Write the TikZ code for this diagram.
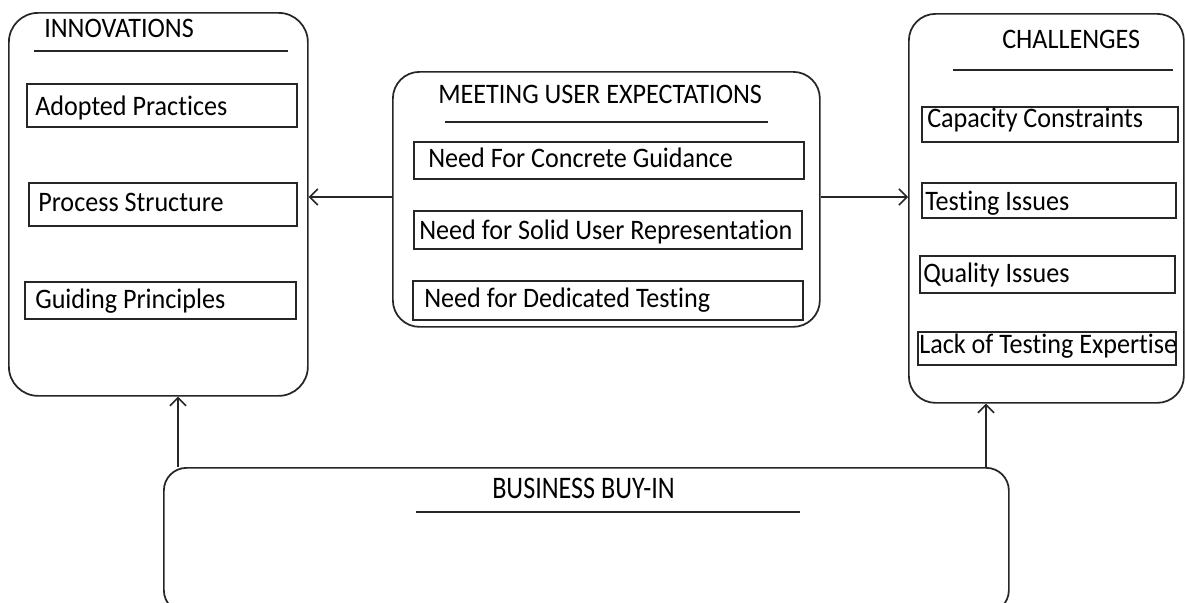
\documentclass[tikz,border=0pt]{standalone}
\usepackage{fontspec}
\setmainfont[Ligatures={NoCommon}]{Carlito}
\usetikzlibrary{arrows.meta}
\tikzset{
  ink/.style={draw=black!85, line width=1.3pt},
  frame/.style={ink, rounded corners=#1, inner sep=0pt, anchor=north west},
  item/.style={ink, inner sep=0pt, anchor=north west},
  txt/.style={inner sep=0pt, anchor=base west, font=\fontsize{19.6}{24}\selectfont},
  rulel/.style={ink},
  arr/.style={draw=black!85, line width=1.1pt, -{Straight Barb[length=6pt,width=12pt]}},
}
% #1 name, (#2,#3) top-left, (#4,#5) bottom-right, in pixel units
\newcommand\boxat[5]{\node[item, minimum width={(#4-#2)*0.75pt}, minimum height={(#5-#3)*0.75pt}] (#1) at (#2,#3) {};}
\newcommand\framat[6]{\node[frame=#6, minimum width={(#4-#2)*0.75pt}, minimum height={(#5-#3)*0.75pt}] (#1) at (#2,#3) {};}
\newcommand\tx[1]{\scalebox{1}[1.08]{#1}}

\begin{document}
\begin{tikzpicture}[x=0.75pt, y=-0.75pt]
\useasboundingbox (0,0) rectangle (1186,603);

% ---- Innovations ----
\framat{inn}{8}{12}{307}{395}{22pt}
\node[txt] (innT) at (44,37) {\tx{INNOVATIONS}};
\draw[rulel] (34,51) -- (288,51);
\boxat{ap}{26}{83}{296}{126}
\node[txt] (apT) at (35,115) {\tx{Adopted Practices}};
\boxat{ps}{28}{182}{296}{225}
\node[txt] (psT) at (38,211) {\tx{Process Structure}};
\boxat{gp}{24}{281}{295}{318}
\node[txt] (gpT) at (35,308) {\tx{Guiding Principles}};

% ---- Meeting user expectations ----
\framat{mue}{392}{71}{819}{326}{20pt}
\node[txt] (mueT) at (438,103) {\tx{MEETING USER EXPECTATIONS}};
\draw[rulel] (445,122) -- (768,122);
\boxat{cg}{413}{141}{803}{178}
\node[txt] (cgT) at (428,167) {\tx{Need For Concrete Guidance}};
\boxat{su}{413}{210}{801}{248}
\node[txt] (suT) at (419,239) {\tx{Need for Solid User Representation}};
\boxat{dt}{412}{280}{802}{319}
\node[txt] (dtT) at (424,307) {\tx{Need for Dedicated Testing}};

% ---- Challenges ----
\framat{cha}{908}{13}{1183}{402}{20pt}
\node[txt] (chaT) at (1002,48) {\tx{CHALLENGES}};
\draw[rulel] (953,70) -- (1173,70);
\boxat{cc}{921}{106}{1177}{141}
\node[txt] (ccT) at (927,127) {\tx{Capacity Constraints}};
\boxat{ti}{921}{182}{1175}{217}
\node[txt] (tiT) at (925,210) {\tx{Testing Issues}};
\boxat{qi}{919}{255}{1174}{292}
\node[txt] (qiT) at (923,282) {\tx{Quality Issues}};
\boxat{le}{917}{331}{1175}{364}
\node[txt] (leT) at (919,353) {\tx{Lack of Testing Expertise}};

% ---- Business buy-in ----
\framat{bbi}{163}{467}{1008}{612}{17pt}
\node[txt] (bbiT) at (492,498) {\scalebox{1}[1.2]{BUSINESS BUY-IN}};
\draw[rulel] (416,512) -- (800,512);

% ---- connectors ----
\coordinate (lx) at (178,0);
\coordinate (rx) at (986,0);
\coordinate (my) at (0,197);
\draw[arr] (mue.west |- my) -- (inn.east |- my);
\draw[arr] (mue.east |- my) -- (cha.west |- my);
\draw[arr] (bbi.north -| lx) -- (inn.south -| lx);
\draw[arr] (bbi.north -| rx) -- (cha.south -| rx);
\end{tikzpicture}
\end{document}
